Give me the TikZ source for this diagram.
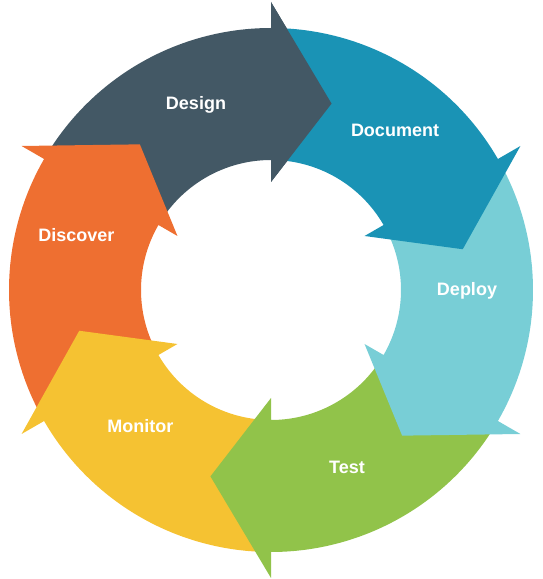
\documentclass[tikz,border=0pt]{standalone}
\usepackage{fontspec}
\setmainfont{Liberation Sans}
\definecolor{cDesign}{RGB}{67,88,101}
\definecolor{cDocument}{RGB}{26,147,181}
\definecolor{cDeploy}{RGB}{120,206,214}
\definecolor{cTest}{RGB}{145,195,74}
\definecolor{cMonitor}{RGB}{245,194,50}
\definecolor{cDiscover}{RGB}{238,111,49}
% One curved arrow of the cycle: #1 colour, #2 angle of the arrowhead's base.
% The body runs clockwise from #2+60 to #2, the head points 18 degrees further.
\newcommand\cyclearrow[2]{%
  \fill[#1] (#2+60:262) arc[start angle=#2+60, end angle=#2, radius=262]
    -- (#2:288) -- (#2-18:196) -- (#2:108) -- (#2:130)
    arc[start angle=#2, end angle=#2+60, radius=130] -- cycle;}
\newcommand\cyclehead[2]{%
  \fill[#1] (#2:288) -- (#2-18:196) -- (#2:108) -- cycle;}
\begin{document}
\begin{tikzpicture}[x=1pt, y=1pt,
  stagetext/.style={text=white, font=\bfseries\fontsize{18}{20}\selectfont,
    anchor=base, inner sep=0pt}]
\useasboundingbox (0,0) rectangle (542,579);
\begin{scope}[shift={(271,289)}]
  \cyclearrow{cDesign}{90}
  \cyclearrow{cDiscover}{150}
  \cyclearrow{cMonitor}{210}
  \cyclearrow{cTest}{270}
  \cyclearrow{cDeploy}{330}
  \cyclearrow{cDocument}{30}
  % the Design head lies on top of the Document tail
  \cyclehead{cDesign}{90}
\end{scope}
\node[stagetext] (design)   at (196,469)   {Design};
\node[stagetext] (document) at (395,442.7) {Document};
\node[stagetext] (deploy)   at (467,283.3) {Deploy};
\node[stagetext] (test)     at (347,105.7) {Test};
\node[stagetext] (monitor)  at (140.3,146.7) {Monitor};
\node[stagetext] (discover) at (76.3,337.3) {Discover};
\end{tikzpicture}
\end{document}
